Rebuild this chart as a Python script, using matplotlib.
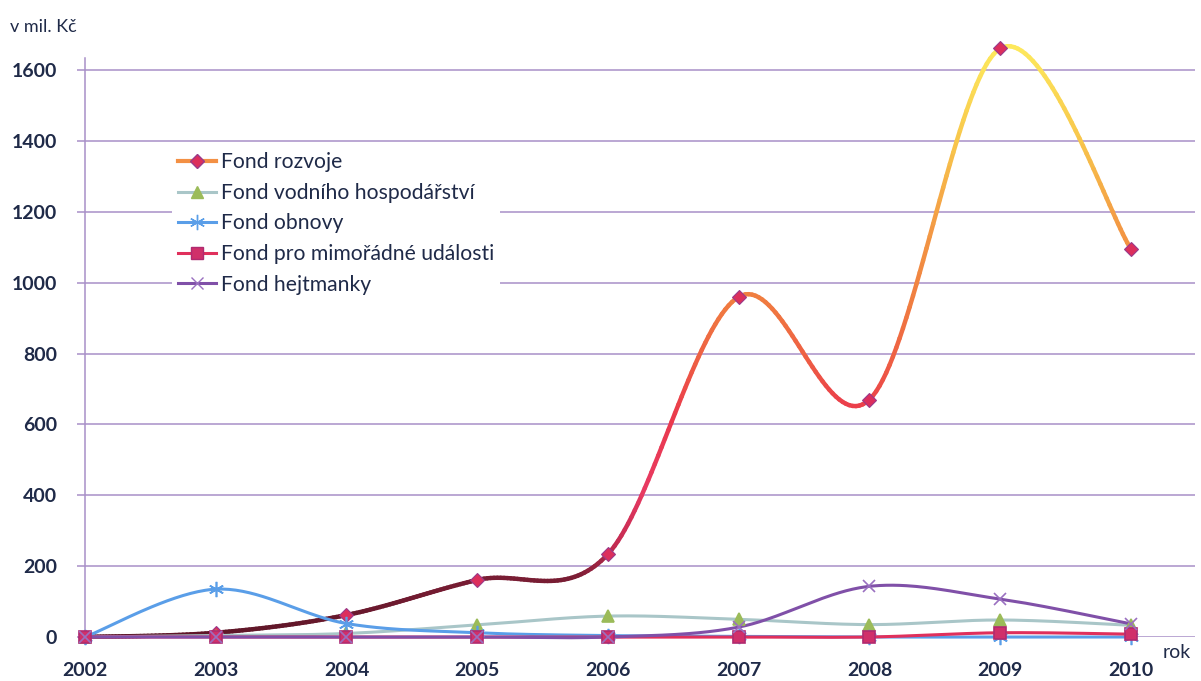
import numpy as np
import matplotlib
matplotlib.use("Agg")
import matplotlib.pyplot as plt
from matplotlib.collections import LineCollection
from matplotlib.colors import LinearSegmentedColormap
from matplotlib.lines import Line2D

# data (v mil. Kč)
years = [2002, 2003, 2004, 2005, 2006, 2007, 2008, 2009, 2010]
fond_rozvoje = [0, 12, 62, 161, 234, 960, 670, 1661, 1095]
fond_vodniho = [0, 4, 10, 34, 59, 50, 35, 48, 33]
fond_obnovy = [0, 135, 38, 12, 4, 2, 0, 0, 0]
fond_mimoradne = [0, 0, 0, 0, 0, 0, 0, 12, 8]
fond_hejtmanky = [0, 0, 0, 0, 0, 28, 143, 107, 37]

labels = ["Fond rozvoje", "Fond vodního hospodářství", "Fond obnovy",
          "Fond pro mimořádné události", "Fond hejtmanky"]
yticks = [0, 200, 400, 600, 800, 1000, 1200, 1400, 1600]

grid_c = "#a890c8"
text_c = "#1f2a48"
plt.rcParams['font.family'] = ['Lato', 'DejaVu Sans']


def smooth(x, y, n=40):
    # Excel-style smoothed line (Catmull-Rom as cubic Bezier)
    p = np.column_stack([x, y]).astype(float)
    p = np.vstack([p[0], p, p[-1]])
    out = []
    t = np.linspace(0, 1, n)[:, None]
    for i in range(1, len(p) - 2):
        p0, p3 = p[i], p[i + 1]
        c1 = p0 + (p[i + 1] - p[i - 1]) / 6
        c2 = p3 - (p[i + 2] - p[i]) / 6
        seg = ((1 - t) ** 3) * p0 + 3 * ((1 - t) ** 2) * t * c1 + 3 * (1 - t) * t ** 2 * c2 + t ** 3 * p3
        out.append(seg if i == 1 else seg[1:])
    s = np.vstack(out)
    return s[:, 0], s[:, 1]


fig = plt.figure(figsize=(12.01, 6.81), dpi=100)
ax = fig.add_axes([85 / 1201, 44 / 681, 1110 / 1201, 579 / 681])
ax.set_xlim(2002, 2010.49)
ax.set_ylim(0, 1634)

for v in yticks:
    ax.axhline(v, color=grid_c, lw=1.1, zorder=0)

# Fond rozvoje with vertical colour gradient
sx, sy = smooth(years, fond_rozvoje)
pts = np.column_stack([sx, sy]).reshape(-1, 1, 2)
segs = np.concatenate([pts[:-1], pts[1:]], axis=1)
cmap = LinearSegmentedColormap.from_list("rozvoj", [
    (0.0, "#5e1628"), (0.10, "#7a1d34"), (0.15, "#c02a50"), (0.25, "#e83a62"),
    (0.38, "#ea3a4c"), (0.47, "#ee5e44"), (0.57, "#f07c40"), (0.70, "#f39a44"),
    (0.85, "#f8c84c"), (1.0, "#fde85c")])
lc = LineCollection(segs, cmap=cmap, norm=plt.Normalize(0, 1661), lw=3.2,
                    capstyle="round", zorder=3)
lc.set_array((sy[:-1] + sy[1:]) / 2)
lc.set_clip_on(False)
ax.add_collection(lc)
ax.plot(years, fond_rozvoje, ls="none", marker="D", ms=7, mfc="#dc2f5c",
        mec="#9a3a8a", mew=0.8, zorder=4, clip_on=False)

series = [
    (fond_vodniho, "#a9c6c8", "^", "#9bbb59", "#9bbb59", 9),
    (fond_obnovy, "#5a9ee8", (6, 2, 0), "#5a9ee8", "#5a9ee8", 11),
    (fond_mimoradne, "#e0305c", "s", "#d0306a", "#b02a70", 8),
    (fond_hejtmanky, "#8050a8", "x", "#8050a8", "#9a70c0", 9),
]
for vals, lc_, mk, mfc, mec, ms in series:
    x_, y_ = smooth(years, vals)
    ax.plot(x_, y_, color=lc_, lw=2.2, zorder=5, clip_on=False, solid_capstyle="round")
    ax.plot(years, vals, ls="none", marker=mk, ms=ms, mfc=mfc, mec=mec, mew=1.2,
            zorder=6, clip_on=False)

for s in ["top", "right", "bottom"]:
    ax.spines[s].set_visible(False)
ax.spines["left"].set_color(grid_c)
ax.spines["left"].set_linewidth(1.1)

ax.set_yticks(yticks)
ax.set_xticks(years)
ax.tick_params(axis="y", length=6, color=grid_c, width=1.1, pad=14, labelcolor=text_c)
ax.tick_params(axis="x", length=0, pad=18, labelcolor=text_c)
for lab in ax.get_yticklabels() + ax.get_xticklabels():
    lab.set_fontsize(14)
    lab.set_fontweight("bold")

fig.text(10 / 1201, 1 - 27 / 681, "v mil. Kč", fontsize=13, color=text_c, va="center")
fig.text(1163 / 1201, 1 - 652 / 681, "rok", fontsize=14, color=text_c, va="center")

handles = [
    Line2D([], [], color="#f39044", lw=3, marker="D", ms=7, mfc="#dc2f5c", mec="#9a3a8a"),
    Line2D([], [], color="#a9c6c8", lw=2.2, marker="^", ms=9, mfc="#9bbb59", mec="#9bbb59"),
    Line2D([], [], color="#5a9ee8", lw=2.2, marker=(6, 2, 0), ms=11, mfc="#5a9ee8", mec="#5a9ee8"),
    Line2D([], [], color="#e0305c", lw=2.2, marker="s", ms=8, mfc="#d0306a", mec="#b02a70"),
    Line2D([], [], color="#8050a8", lw=2.2, marker="x", ms=9, mfc="#8050a8", mec="#9a70c0"),
]
leg = fig.legend(handles, labels, loc="upper left", bbox_to_anchor=(172 / 1201, 1 - 146 / 681),
                 fontsize=15.2, frameon=True, facecolor="white", edgecolor="none", framealpha=1,
                 borderpad=0.3, borderaxespad=0, labelspacing=0.5, handlelength=1.8,
                 handletextpad=0.2)
leg.set_zorder(10)
for t in leg.get_texts():
    t.set_color(text_c)

fig.savefig("out.png", dpi=100)
